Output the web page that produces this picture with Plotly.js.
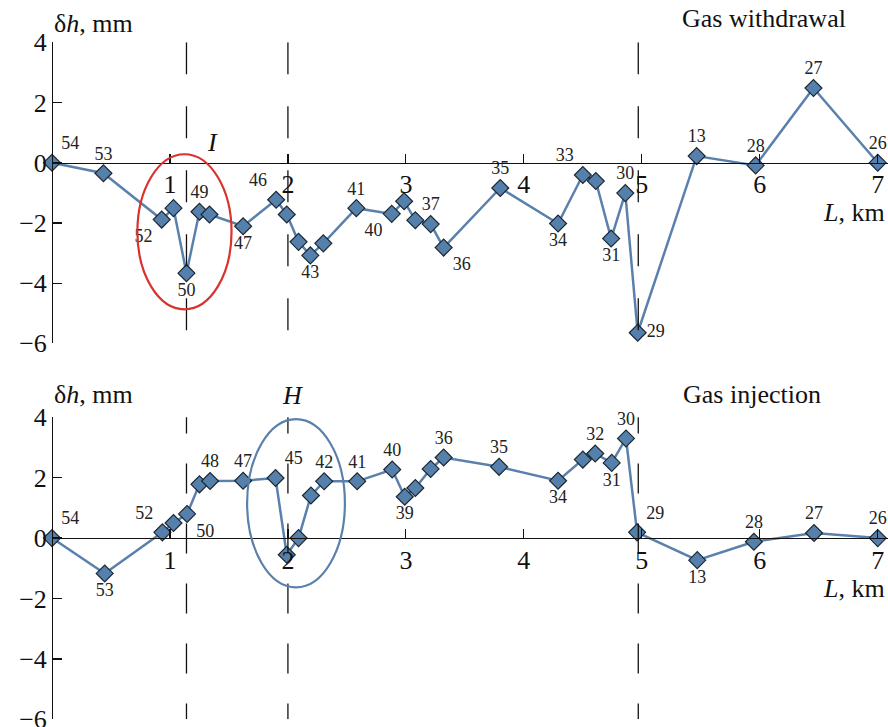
<!DOCTYPE html>
<html>
<head>
<meta charset="utf-8">
<script src="https://cdn.plot.ly/plotly-3.0.1.min.js"></script>
<style>html,body{margin:0;padding:0;background:#fff;}#chart{width:888px;height:727px;}</style>
</head>
<body>
<div id="chart"></div>
<script>
// ---- Data ----
// Gas withdrawal panel
const distTop = [0, 0.436, 0.93, 1.03, 1.14, 1.25, 1.335, 1.62, 1.90, 1.99, 2.09, 2.19, 2.30, 2.58, 2.88, 2.985, 3.08, 3.21, 3.32, 3.80, 4.29, 4.50, 4.61, 4.74, 4.86, 4.965, 5.465, 5.965, 6.455, 7.0];
const dhTop   = [0, -0.35, -1.89, -1.51, -3.67, -1.63, -1.72, -2.11, -1.23, -1.72, -2.63, -3.08, -2.68, -1.51, -1.70, -1.28, -1.91, -2.04, -2.82, -0.84, -2.02, -0.41, -0.61, -2.52, -1.01, -5.65, 0.22, -0.09, 2.48, 0];
const labelsTop = ["54","53","52","","50","49","","47","46","","","43","","41","40","","","37","36","35","34","33","","31","30","29","13","28","27","26"];

// Gas injection panel
const distBot = [0, 0.447, 0.936, 1.03, 1.145, 1.25, 1.34, 1.62, 1.895, 1.99, 2.09, 2.195, 2.307, 2.587, 2.884, 2.99, 3.08, 3.21, 3.32, 3.79, 4.29, 4.50, 4.605, 4.745, 4.866, 4.96, 5.47, 5.95, 6.46, 7.0];
const dhBot   = [0, -1.17, 0.19, 0.5, 0.8, 1.78, 1.89, 1.9, 1.99, -0.55, 0, 1.41, 1.88, 1.88, 2.27, 1.37, 1.66, 2.29, 2.67, 2.36, 1.9, 2.6, 2.8, 2.49, 3.3, 0.19, -0.73, -0.12, 0.17, 0];
const labelsBot = ["54","53","52","","50","","48","47","45","","","","42","41","40","39","","","36","35","34","","32","31","30","29","13","28","27","26"];

// Axis ticks and boundary lines
const xTicks = [1, 2, 3, 4, 5, 6, 7];
const yTicks = [-6, -4, -2, 0, 2, 4];
const boundaryKm = [1.14, 2.0, 4.97];

// ---- Styles ----
const posTop = ["top right","top center","bottom left","top center","bottom center","top center","top center","bottom center","top left","top center","top center","bottom center","top center","top center","bottom left","top center","top center","top center","bottom right","top center","bottom center","top left","top center","bottom center","top center","middle right","top center","top center","top center","top center"];
const posBot = ["top right","bottom center","top left","top center","bottom right","top center","top center","top center","top right","top center","top center","top center","top center","top center","top center","bottom center","top center","top center","top center","top center","bottom center","top center","top center","bottom center","top center","top right","bottom center","top center","top center","top center"];

const SERIF = "Liberation Serif";
const lineColor = "#5a81ab";
const markerStyle = {symbol: "diamond", size: 13, color: "#5580ab", line: {color: "#1c2733", width: 1.2}};
const labelFont = {family: SERIF, size: 18, color: "#222"};

const trTop = {x: distTop, y: dhTop, xaxis: "x", yaxis: "y", type: "scatter", mode: "lines+markers+text",
  text: labelsTop, textposition: posTop, textfont: labelFont,
  line: {color: lineColor, width: 2.5}, marker: markerStyle, cliponaxis: false, hoverinfo: "x+y"};
const trBot = {x: distBot, y: dhBot, xaxis: "x2", yaxis: "y2", type: "scatter", mode: "lines+markers+text",
  text: labelsBot, textposition: posBot, textfont: labelFont,
  line: {color: lineColor, width: 2.5}, marker: markerStyle, cliponaxis: false, hoverinfo: "x+y"};

const H = 727, W = 888, ML = 52;
const topDom = [1 - 343.3 / H, 1 - 42.3 / H];
const botDom = [1 - 719.3 / H, 1 - 417.3 / H];
const zeroPos = d => d[0] + 0.6 * (d[1] - d[0]);
const px = p => (p - ML) / (W - ML);
const py = p => 1 - p / H;

const tickFont = {family: SERIF, size: 26, color: "#111"};
function xax(pos) {
  return {range: [0, 7.087], anchor: "free", position: pos, showline: true, linecolor: "#111", linewidth: 1.2,
    ticks: "inside", ticklen: 9, tickwidth: 1.2, tickcolor: "#111", tickvals: xTicks, tickfont: tickFont,
    ticklabelstandoff: -2, ticklabeloverflow: "allow", showgrid: false, zeroline: false, fixedrange: true};
}
function yax(dom) {
  return {domain: dom, range: [-6, 4], anchor: "free", position: 0, showline: true, linecolor: "#111", linewidth: 1.2,
    ticks: "inside", ticklen: 9, tickwidth: 1.2, tickcolor: "#111", tickvals: yTicks, tickfont: tickFont,
    ticklabeloverflow: "allow", showgrid: false, zeroline: false, fixedrange: true};
}

const shapes = [];
boundaryKm.forEach(b => {
  shapes.push({type: "line", xref: "x", yref: "y", x0: b, x1: b, y0: 4, y1: -6, line: {color: "#111", width: 1.3, dash: "32px,32px"}});
  shapes.push({type: "line", xref: "x2", yref: "y2", x0: b, x1: b, y0: 4.46, y1: -6, line: {color: "#111", width: 1.3, dash: "30px,30px"}});
});
shapes.push({type: "circle", xref: "x", yref: "y", x0: 0.724, x1: 1.522, y0: -4.87, y1: 0.28, line: {color: "#d8322f", width: 2.2}});
shapes.push({type: "circle", xref: "x2", yref: "y2", x0: 1.654, x1: 2.483, y0: -1.63, y1: 3.94, line: {color: "#5a81ab", width: 2.2}});

const annFont = {family: SERIF, size: 26, color: "#111"};
const annotations = [
  {text: "δ<i>h</i>, mm", xref: "paper", yref: "paper", x: 0, y: py(23.2), xanchor: "left", yanchor: "middle", showarrow: false, font: annFont},
  {text: "δ<i>h</i>, mm", xref: "paper", yref: "paper", x: 0, y: py(394.5), xanchor: "left", yanchor: "middle", showarrow: false, font: annFont},
  {text: "Gas withdrawal", xref: "paper", yref: "paper", x: px(763.5), y: py(18.2), xanchor: "center", yanchor: "middle", showarrow: false, font: annFont},
  {text: "Gas injection", xref: "paper", yref: "paper", x: px(752), y: py(394.2), xanchor: "center", yanchor: "middle", showarrow: false, font: annFont},
  {text: "<i>L</i>, km", xref: "paper", yref: "paper", x: px(887), y: py(212.5), xanchor: "right", yanchor: "middle", showarrow: false, font: annFont},
  {text: "<i>L</i>, km", xref: "paper", yref: "paper", x: px(887), y: py(588.5), xanchor: "right", yanchor: "middle", showarrow: false, font: annFont},
  {text: "<i>I</i>", xref: "paper", yref: "paper", x: px(212), y: py(142.7), xanchor: "center", yanchor: "middle", showarrow: false, font: annFont},
  {text: "<i>H</i>", xref: "paper", yref: "paper", x: px(292), y: py(395.3), xanchor: "center", yanchor: "middle", showarrow: false, font: annFont}
];

const layout = {
  width: W, height: H, margin: {l: ML, r: 0, t: 0, b: 0, pad: 0},
  paper_bgcolor: "#fff", plot_bgcolor: "rgba(0,0,0,0)", showlegend: false,
  xaxis: xax(zeroPos(topDom)), yaxis: yax(topDom),
  xaxis2: xax(zeroPos(botDom)), yaxis2: yax(botDom),
  shapes: shapes, annotations: annotations
};
Plotly.newPlot("chart", [trTop, trBot], layout, {displayModeBar: false, staticPlot: true});
</script>
</body>
</html>
